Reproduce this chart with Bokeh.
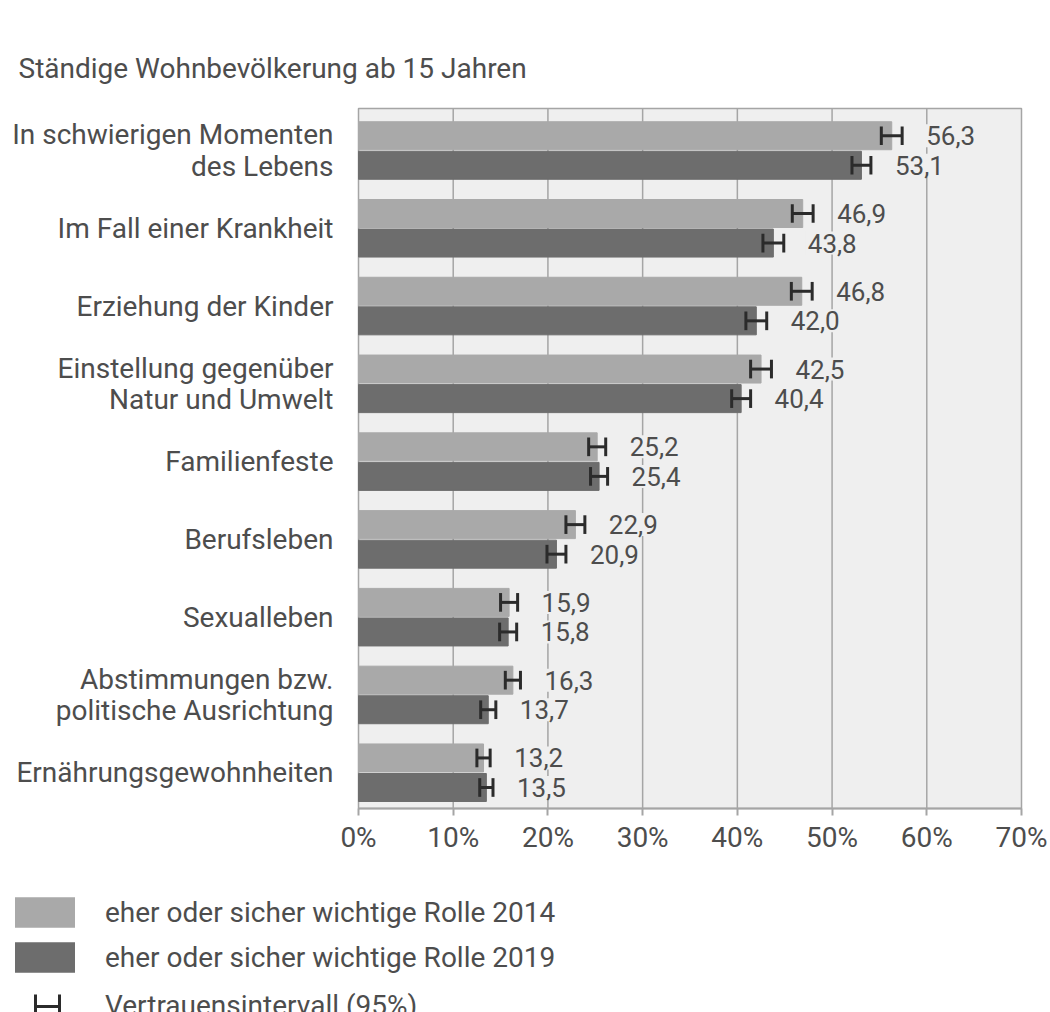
from bokeh.plotting import figure
from bokeh.models import (ColumnDataSource, Range1d, FixedTicker, PrintfTickFormatter,
                          Legend, LegendItem, Label)
from bokeh.core.properties import value
from bokeh.embed import file_html
from bokeh.resources import INLINE

categories = ["In schwierigen Momenten\ndes Lebens", "Im Fall einer Krankheit",
              "Erziehung der Kinder", "Einstellung gegenüber\nNatur und Umwelt",
              "Familienfeste", "Berufsleben", "Sexualleben",
              "Abstimmungen bzw.\npolitische Ausrichtung", "Ernährungsgewohnheiten"]
v2014 = [56.3, 46.9, 46.8, 42.5, 25.2, 22.9, 15.9, 16.3, 13.2]
v2019 = [53.1, 43.8, 42.0, 40.4, 25.4, 20.9, 15.8, 13.7, 13.5]
ci2014 = [1.1, 1.1, 1.1, 1.1, 0.9, 1.0, 0.9, 0.8, 0.7]
ci2019 = [1.0, 1.1, 1.1, 1.0, 0.9, 1.0, 0.9, 0.8, 0.7]
x_ticks = [0, 10, 20, 30, 40, 50, 60, 70]
title_text = "Ständige Wohnbevölkerung ab 15 Jahren"
legend_labels = ["eher oder sicher wichtige Rolle 2014",
                 "eher oder sicher wichtige Rolle 2019",
                 "Vertrauensintervall (95%)"]

FONT = "Roboto"
TXT = "#4d4d4d"
LIGHT = "#a9a9a9"
DARK = "#6d6d6d"
BG = "#efefef"
ERR = "#2b2b2b"
GRID = "#a5a5a5"

# canvas / plot-area layout in pixels
W, H = 1048, 1012
PL, PR, PT, PB = 358, 1021, 108, 808      # plot area edges
n = len(categories)
y_lo, y_hi = -0.46, n - 0.46               # data extent of plot area
x_lo, x_hi = x_ticks[0], x_ticks[-1]
kx = (PR - PL) / (x_hi - x_lo)
ky = (PB - PT) / (y_hi - y_lo)
xr = Range1d(x_lo - PL / kx, x_hi + (W - PR) / kx)
yr = Range1d(y_lo - (H - PB) / ky, y_hi + PT / ky)

ypos = [n - 1 - i for i in range(n)]
dodge = 0.19
bar_h = 0.36
cap = 0.12

def src(vals, cis, off):
    ys = [y + off for y in ypos]
    return ColumnDataSource(dict(
        y=ys, v=vals, lo=[a - b for a, b in zip(vals, cis)], hi=[a + b for a, b in zip(vals, cis)],
        y0=[y - cap for y in ys], y1=[y + cap for y in ys],
        t=[f"{a:.1f}".replace(".", ",") for a in vals]))

s14 = src(v2014, ci2014, dodge)
s19 = src(v2019, ci2019, -dodge)

p = figure(width=W, height=H, x_range=xr, y_range=yr,
           output_backend="svg", toolbar_location=None,
           min_border=0, min_border_left=0, min_border_right=0,
           min_border_top=0, min_border_bottom=0)
p.background_fill_color = "white"
p.border_fill_color = "white"
p.outline_line_color = None
p.xgrid.visible = False
p.ygrid.visible = False

# plot area with frame and vertical grid lines
p.quad(left=[x_lo], right=[x_hi], bottom=[y_lo], top=[y_hi],
       fill_color=BG, line_color=GRID, line_width=1.5)
inner = x_ticks[1:-1]
p.segment(x0=inner, x1=inner, y0=[y_lo] * len(inner), y1=[y_hi] * len(inner),
          line_color=GRID, line_width=1.5)

p.hbar(y="y", left=0, right="v", height=bar_h, source=s14, fill_color=LIGHT, line_color=LIGHT)
p.hbar(y="y", left=0, right="v", height=bar_h, source=s19, fill_color=DARK, line_color=DARK)

for s in (s14, s19):
    p.segment(x0="lo", x1="hi", y0="y", y1="y", source=s, line_color=ERR, line_width=3)
    p.segment(x0="lo", x1="lo", y0="y0", y1="y1", source=s, line_color=ERR, line_width=3)
    p.segment(x0="hi", x1="hi", y0="y0", y1="y1", source=s, line_color=ERR, line_width=3)
    p.text(x="hi", y="y", text="t", source=s, x_offset=22, text_baseline="middle",
           text_font=value(FONT), text_font_size="26px", text_color=TXT,
           background_fill_color=BG, padding=2)

# axes, pinned to the plot area
xa = p.xaxis[0]
xa.fixed_location = y_lo
xa.bounds = (x_lo, x_hi)
xa.ticker = FixedTicker(ticks=x_ticks)
xa.formatter = PrintfTickFormatter(format="%d%%")
xa.axis_line_color = GRID
xa.axis_line_width = 2
xa.major_tick_line_color = GRID
xa.major_tick_line_width = 2
xa.major_tick_out = 7
xa.major_tick_in = 0
xa.minor_tick_line_color = None
xa.major_label_standoff = 5
xa.major_label_text_font = FONT
xa.major_label_text_font_size = "28px"
xa.major_label_text_color = TXT

ya = p.yaxis[0]
ya.fixed_location = x_lo
ya.ticker = FixedTicker(ticks=ypos)
ya.major_label_overrides = {y: c for y, c in zip(ypos, categories)}
ya.axis_line_color = None
ya.major_tick_line_color = None
ya.minor_tick_line_color = None
ya.major_tick_out = 0
ya.major_tick_in = 0
ya.major_label_standoff = 25
ya.major_label_text_font = FONT
ya.major_label_text_font_size = "28px"
ya.major_label_text_line_height = 0.945
ya.major_label_text_color = TXT
ya.major_label_text_align = "right"

# title
p.add_layout(Label(x=18, y=H - 68, x_units="screen", y_units="screen", text=title_text,
                   text_font=FONT, text_font_size="28px", text_color=TXT,
                   text_baseline="middle", text_align="left"))

# legend (renderers hold one point outside the visible range)
off = yr.start - 5
k14 = p.hbar(y=[off], right=[1], height=0.1, fill_color=LIGHT, line_color=None)
k19 = p.hbar(y=[off], right=[1], height=0.1, fill_color=DARK, line_color=None)
h_caps = p.hbar(y=[off], right=[1], height=0.1, fill_alpha=0, line_color=ERR, line_width=3,
                line_dash="0 24 24 24 24")
h_mid = p.segment(x0=[0], x1=[1], y0=[off], y1=[off], line_color=ERR, line_width=3,
                  line_dash="0 3 24 3")

leg1 = Legend(items=[LegendItem(label=legend_labels[0], renderers=[k14]),
                     LegendItem(label=legend_labels[1], renderers=[k19])],
              location=(7, 36), glyph_width=75, glyph_height=38, spacing=7,
              label_standoff=23, padding=0, margin=0,
              label_text_font=FONT, label_text_font_size="28px", label_text_color=TXT,
              border_line_alpha=0, background_fill_alpha=0)
p.add_layout(leg1)
leg2 = Legend(items=[LegendItem(label=legend_labels[2], renderers=[h_caps, h_mid])],
              location=(32, -10), glyph_width=30, glyph_height=30, spacing=0,
              label_standoff=43, padding=0, margin=0,
              label_text_font=FONT, label_text_font_size="28px", label_text_color=TXT,
              border_line_alpha=0, background_fill_alpha=0)
p.add_layout(leg2)

open("out.html", "w").write(file_html(p, INLINE))
